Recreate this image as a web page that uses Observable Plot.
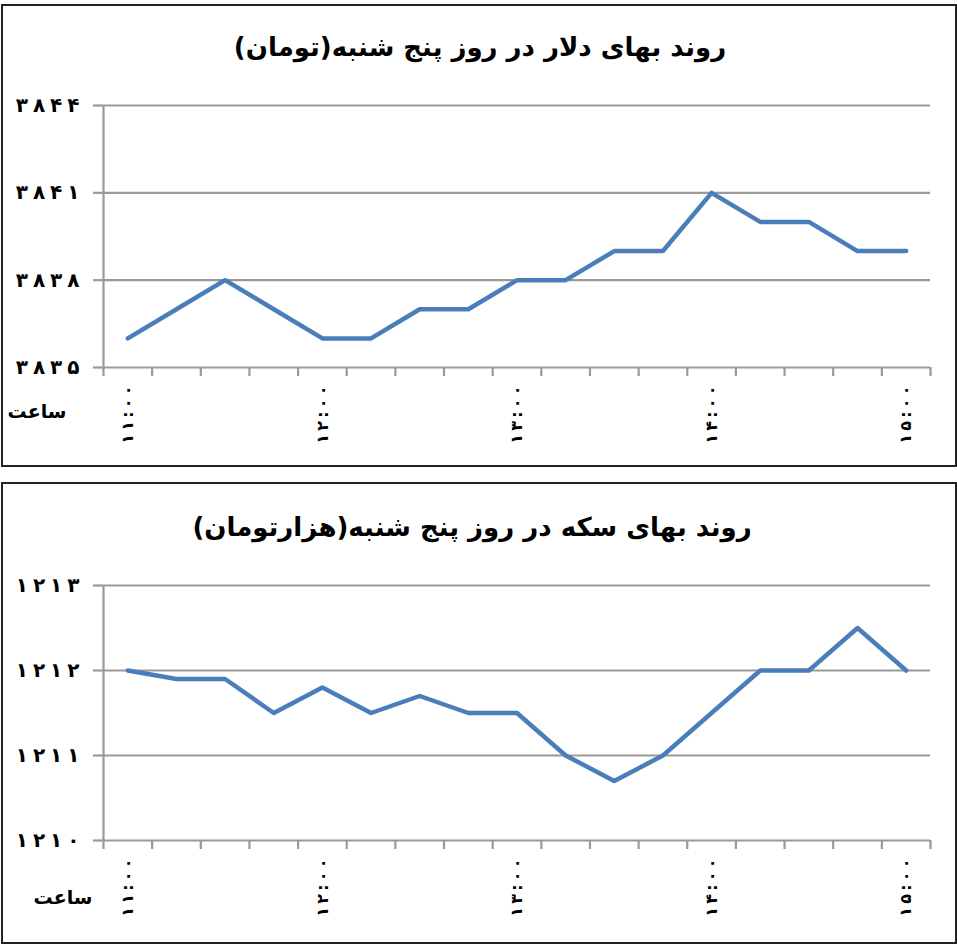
<!DOCTYPE html>
<html>
<head>
<meta charset="utf-8">
<script src="https://cdn.jsdelivr.net/npm/d3@7"></script>
<script src="https://cdn.jsdelivr.net/npm/@observablehq/plot@0.6"></script>
<style>
  html, body { margin: 0; padding: 0; background: #fff; }
  #page { position: relative; width: 957px; height: 945px; overflow: hidden; font-family: "DejaVu Sans", sans-serif; }
  .panel { position: absolute; border: 2px solid #222; box-sizing: border-box; }
  .title { position: absolute; font-weight: bold; font-size: 26px; white-space: nowrap; transform: translate(-50%, -50%); direction: rtl; }
  .unit { position: absolute; font-weight: bold; font-size: 19px; white-space: nowrap; transform: translate(-50%, -50%); direction: rtl; }
  .plotwrap { position: absolute; left: 0; }
</style>
</head>
<body>
<div id="page"></div>
<script>
// ---- data ----
const times = ["۱۱:۰۰","۱۱:۱۵","۱۱:۳۰","۱۱:۴۵","۱۲:۰۰","۱۲:۱۵","۱۲:۳۰","۱۲:۴۵","۱۳:۰۰","۱۳:۱۵","۱۳:۳۰","۱۳:۴۵","۱۴:۰۰","۱۴:۱۵","۱۴:۳۰","۱۴:۴۵","۱۵:۰۰"];
const hourLabels = ["۱۱:۰۰","۱۲:۰۰","۱۳:۰۰","۱۴:۰۰","۱۵:۰۰"];
const dollarValues = [3836,3837,3838,3837,3836,3836,3837,3837,3838,3838,3839,3839,3841,3840,3840,3839,3839];
const coinValues = [1212,1211.9,1211.9,1211.5,1211.8,1211.5,1211.7,1211.5,1211.5,1211,1210.7,1211,1211.5,1212,1212,1212.5,1212];
const dollarTicks = [3835,3838,3841,3844];
const coinTicks = [1210,1211,1212,1213];
const dollarTitle = "روند بهای دلار در روز پنج شنبه(تومان)";
const coinTitle = "روند بهای سکه در روز پنج شنبه(هزارتومان)";
const xUnit = "ساعت";

const faDigits = "۰۱۲۳۴۵۶۷۸۹";
const spread = (s, sep) => Array.from(s).join(sep);
const fa = d => spread(String(d).replace(/\d/g, c => faDigits[+c]), "\u2005");

function chart(values, ticks, height, marginBottom) {
  const data = values.map((v, i) => ({i, t: times[i], v}));
  const hourIdx = hourLabels.map(h => times.indexOf(h));
  const bounds = d3.range(times.length + 1).map(k => k - 0.5);
  const grey = "#999";
  return Plot.plot({
    width: 957, height,
    marginLeft: 103, marginRight: 27, marginTop: 20, marginBottom,
    style: {fontFamily: "DejaVu Sans, sans-serif", fontSize: "20px", fontWeight: "bold", color: "#000", background: "transparent"},
    x: {type: "linear", domain: [-0.5, times.length - 0.5], axis: null},
    y: {domain: [ticks[0], ticks[ticks.length - 1]], axis: null},
    marks: [
      Plot.gridY(ticks.slice(1), {stroke: grey, strokeOpacity: 1, strokeWidth: 2.2}),
      Plot.axisY({ticks, label: null, tickSize: 10, tickPadding: 14, tickFormat: fa, stroke: grey, fill: "#000", strokeWidth: 2.2}),
      Plot.axisX({ticks: bounds, label: null, tickSize: 9, tickFormat: () => "", stroke: grey, strokeWidth: 2.2}),
      Plot.axisX({ticks: hourIdx, label: null, tickSize: 0, tickPadding: 18, tickRotate: -90, tickFormat: i => spread(times[i], "\u2009"), fill: "#000", fontSize: 16}),
      Plot.ruleX([-0.5], {stroke: grey, strokeWidth: 2.2}),
      Plot.ruleY([ticks[0]], {stroke: grey, strokeWidth: 2.2}),
      Plot.lineY(data, {x: "i", y: "v", stroke: "#4a7ebb", strokeWidth: 4.5, strokeLinecap: "round", strokeLinejoin: "round"})
    ]
  });
}

const page = document.getElementById("page");
function add(html) { const d = document.createElement("div"); d.innerHTML = html; const el = d.firstElementChild; page.appendChild(el); return el; }

add('<div class="panel" style="left:1px;top:4px;width:956px;height:463px"></div>');
add('<div class="panel" style="left:1px;top:482px;width:956px;height:462px"></div>');

const t1 = add('<div class="title" style="left:480px;top:47px"></div>'); t1.textContent = dollarTitle;
const t2 = add('<div class="title" style="left:472px;top:527px"></div>'); t2.textContent = coinTitle;

const w1 = add('<div class="plotwrap" style="top:85px"></div>');
w1.appendChild(chart(dollarValues, dollarTicks, 381, 99));
const w2 = add('<div class="plotwrap" style="top:565px"></div>');
w2.appendChild(chart(coinValues, coinTicks, 378, 103));

const u1 = add('<div class="unit" style="left:37px;top:411px"></div>'); u1.textContent = xUnit;
const u2 = add('<div class="unit" style="left:63px;top:897px"></div>'); u2.textContent = xUnit;
</script>
</body>
</html>
